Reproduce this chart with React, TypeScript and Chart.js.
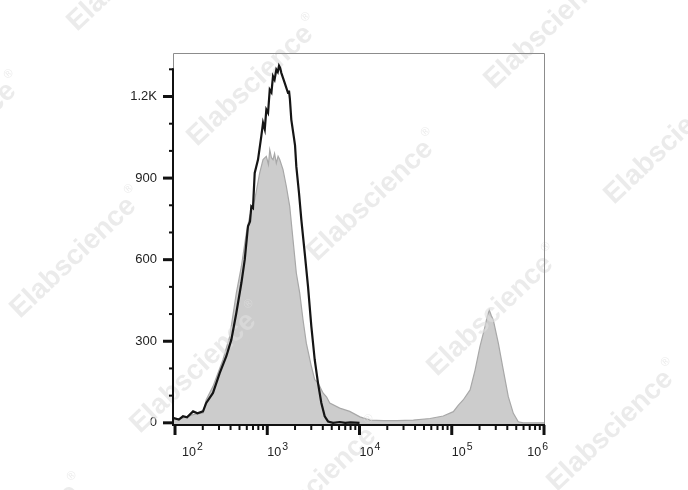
import React, { useEffect, useRef } from 'react';
import { Chart, registerables } from 'chart.js';

Chart.register(...registerables);

// ---- data (channel intensity, event count) ----
const blackX = [95, 110, 122, 135, 157, 175, 201, 218, 258, 305, 360, 408, 462, 524, 570, 618, 650, 672, 700, 731, 794, 862, 900, 940, 977, 1020, 1064, 1110, 1154, 1200, 1254, 1300, 1341, 1380, 1420, 1545, 1679, 1720, 1760, 1822, 1935, 2000, 2065, 2209, 2340, 2548, 2765, 3005, 3269, 3550, 3857, 4195, 4557, 5166, 6100, 7000, 8000, 10000];
const blackY = [18, 12, 24, 20, 42, 35, 42, 73, 110, 183, 245, 306, 404, 514, 600, 723, 740, 796, 790, 919, 968, 1054, 1103, 1080, 1152, 1140, 1225, 1215, 1274, 1262, 1299, 1290, 1313, 1305, 1287, 1250, 1213, 1222, 1190, 1115, 1054, 1020, 943, 845, 747, 624, 502, 355, 232, 146, 73, 24, 5, 0, 3, 0, 2, 0];

const grayX = [95, 122, 157, 201, 218, 258, 331, 392, 462, 524, 593, 645, 731, 828, 900, 977, 1030, 1064, 1110, 1154, 1200, 1254, 1310, 1364, 1482, 1609, 1752, 1902, 2065, 2249, 2441, 2651, 3005, 3269, 3500, 3705, 4021, 4400, 4757, 6100, 7830, 10100, 10900, 13000, 18100, 25300, 38300, 58100, 80900, 104000, 118000, 133000, 158000, 179000, 202000, 229000, 242000, 255000, 268000, 282000, 320000, 362000, 410000, 465000, 526000, 597000, 1025000];
const grayY = [11, 18, 30, 36, 85, 134, 232, 318, 477, 575, 698, 759, 820, 919, 968, 980, 950, 1004, 975, 968, 990, 955, 980, 968, 931, 870, 796, 673, 551, 477, 379, 293, 208, 159, 150, 134, 110, 95, 73, 54, 42, 22, 18, 10, 8, 8, 10, 16, 25, 41, 65, 84, 121, 194, 280, 353, 390, 415, 395, 378, 292, 194, 96, 35, 4, 0, 0];

const yTickValues = [0, 300, 600, 900, 1200];
const yTickLabels = ['0', '300', '600', '900', '1.2K'];
const yMinorValues = [100, 200, 400, 500, 700, 800, 1000, 1100, 1300];
const xDecadeExponents = [2, 3, 4, 5, 6];
const xMinorMultipliers = [2, 3, 4, 5, 6, 7, 8, 9];
const watermarkText = 'Elabscience';
const watermarkMark = '®';

const X_MIN = 95.1;
const X_MAX = 1025000;
const Y_MIN = -8;
const Y_MAX = 1360;

const FONT = '"Liberation Sans", Arial, sans-serif';

function drawWatermarks(ctx: CanvasRenderingContext2D) {
  const base = { x: 197, y: 147 };
  const stepI = { x: 120, y: 115 };
  const stepJ = { x: 177, y: -172 };
  ctx.save();
  ctx.fillStyle = 'rgba(222,222,222,0.62)';
  for (let j = -2; j <= 2; j++) {
    for (let i = -2; i <= 4; i++) {
      const sx = base.x + i * stepI.x + j * stepJ.x;
      const sy = base.y + i * stepI.y + j * stepJ.y;
      if (sx < -220 || sx > 720 || sy < -40 || sy > 700) continue;
      ctx.save();
      ctx.translate(sx, sy);
      ctx.rotate((-43.5 * Math.PI) / 180);
      ctx.font = `bold 28px ${FONT}`;
      ctx.textAlign = 'left';
      ctx.textBaseline = 'alphabetic';
      ctx.fillText(watermarkText, 0, 0);
      const w = ctx.measureText(watermarkText).width;
      ctx.font = `12px ${FONT}`;
      ctx.fillText(watermarkMark, w + 2, -16);
      ctx.restore();
    }
  }
  ctx.restore();
}

const flowPlugin = {
  id: 'flowAxes',
  afterDatasetDraw(chart: any, args: any) {
    if (args.index !== 1) return;
    drawWatermarks(chart.ctx);
  },
  afterDraw(chart: any) {
    const ctx: CanvasRenderingContext2D = chart.ctx;
    const { left, right, top, bottom } = chart.chartArea;
    const xs = chart.scales.x;
    const ys = chart.scales.y;
    ctx.save();
    // frame
    ctx.strokeStyle = '#8c8c8c';
    ctx.lineWidth = 1;
    ctx.beginPath();
    ctx.moveTo(left + 0.5, bottom);
    ctx.lineTo(left + 0.5, top + 0.5);
    ctx.lineTo(right - 0.5, top + 0.5);
    ctx.lineTo(right - 0.5, bottom);
    ctx.stroke();

    ctx.strokeStyle = '#111';
    // y axis line
    const yTop = ys.getPixelForValue(yMinorValues[yMinorValues.length - 1]);
    ctx.lineWidth = 2;
    ctx.beginPath();
    ctx.moveTo(left, bottom + 1);
    ctx.lineTo(left, yTop - 1);
    ctx.stroke();
    // x axis line
    ctx.beginPath();
    ctx.moveTo(left - 1, bottom);
    ctx.lineTo(right, bottom);
    ctx.stroke();

    // y ticks
    yTickValues.forEach((v) => {
      const py = ys.getPixelForValue(v);
      ctx.lineWidth = 3;
      ctx.beginPath();
      ctx.moveTo(left - 10, py);
      ctx.lineTo(left, py);
      ctx.stroke();
    });
    yMinorValues.forEach((v) => {
      const py = ys.getPixelForValue(v);
      ctx.lineWidth = 2;
      ctx.beginPath();
      ctx.moveTo(left - 4, py);
      ctx.lineTo(left, py);
      ctx.stroke();
    });

    // x ticks
    xDecadeExponents.forEach((e) => {
      const px = xs.getPixelForValue(Math.pow(10, e));
      ctx.lineWidth = 3;
      ctx.beginPath();
      ctx.moveTo(px, bottom);
      ctx.lineTo(px, bottom + 10);
      ctx.stroke();
      if (e < 6) {
        xMinorMultipliers.forEach((m) => {
          const mx = xs.getPixelForValue(m * Math.pow(10, e));
          ctx.lineWidth = 2;
          ctx.beginPath();
          ctx.moveTo(mx, bottom);
          ctx.lineTo(mx, bottom + 5);
          ctx.stroke();
        });
      }
    });

    // x labels
    ctx.fillStyle = '#222';
    ctx.textBaseline = 'alphabetic';
    ctx.textAlign = 'left';
    xDecadeExponents.forEach((e) => {
      const px = xs.getPixelForValue(Math.pow(10, e));
      ctx.font = `12.5px ${FONT}`;
      const wb = ctx.measureText('10').width;
      ctx.font = `10.5px ${FONT}`;
      const sup = String(e);
      const ws = ctx.measureText(sup).width;
      const total = wb + 1 + ws;
      let sx = px;
      if (sx < left + 9) sx = left + 9;
      if (sx + total > right + 3) sx = right + 3 - total;
      ctx.font = `12.5px ${FONT}`;
      ctx.fillText('10', sx, 456);
      ctx.font = `10.5px ${FONT}`;
      ctx.fillText(sup, sx + wb + 1, 450);
    });
    ctx.restore();
  },
};

export default function App() {
  const canvasRef = useRef<HTMLCanvasElement | null>(null);

  useEffect(() => {
    const canvas = canvasRef.current;
    if (!canvas) return;
    const chart = new Chart(canvas, {
      type: 'line',
      data: {
        datasets: [
          {
            label: 'stained',
            data: blackX.map((x, i) => ({ x, y: blackY[i] })),
            borderColor: '#151515',
            borderWidth: 2.2,
            fill: false,
            pointRadius: 0,
            tension: 0,
          },
          {
            label: 'control',
            data: grayX.map((x, i) => ({ x, y: grayY[i] })),
            borderColor: '#a8a8a8',
            borderWidth: 1.2,
            backgroundColor: '#cccccc',
            fill: 'start',
            pointRadius: 0,
            tension: 0,
          },
        ],
      },
      options: {
        responsive: false,
        animation: false,
        events: [],
        layout: { padding: { left: 0, right: 143, top: 53, bottom: 25 } },
        plugins: { legend: { display: false }, tooltip: { enabled: false } },
        scales: {
          x: {
            type: 'logarithmic',
            min: X_MIN,
            max: X_MAX,
            grid: { display: false, drawTicks: false },
            border: { display: false },
            ticks: { display: false },
            afterFit: (s: any) => {
              s.height = 40;
            },
          },
          y: {
            type: 'linear',
            min: Y_MIN,
            max: Y_MAX,
            grid: { display: false, drawTicks: false },
            border: { display: false },
            ticks: {
              stepSize: 100,
              padding: 16,
              autoSkip: false,
              includeBounds: false,
              color: '#222',
              font: { family: FONT, size: 13 },
              callback: (v: any) => {
                const idx = yTickValues.indexOf(Number(v));
                return idx >= 0 ? yTickLabels[idx] : '';
              },
            },
            afterFit: (s: any) => {
              s.width = 173;
            },
          },
        },
      },
      plugins: [flowPlugin],
    } as any);
    return () => chart.destroy();
  }, []);

  return (
    <div style={{ position: 'absolute', left: 0, top: 0, width: 688, height: 490, background: '#fff' }}>
      <canvas ref={canvasRef} width={688} height={490} style={{ display: 'block' }} />
    </div>
  );
}
